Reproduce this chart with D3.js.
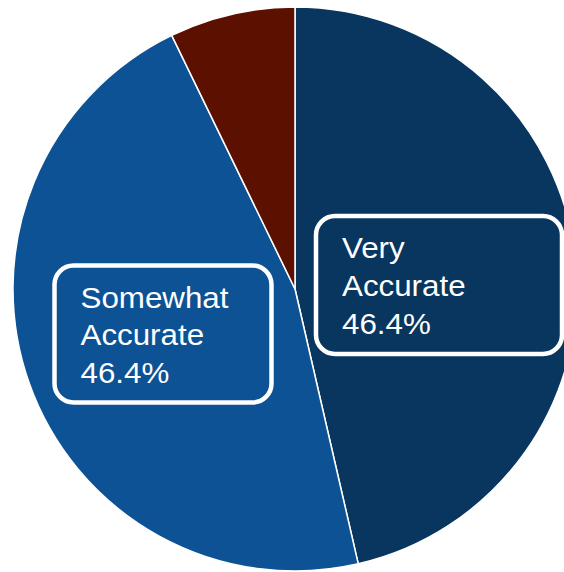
<!DOCTYPE html>
<html>
<head>
<meta charset="utf-8">
<script src="https://cdn.jsdelivr.net/npm/d3@7"></script>
<style>
  html, body { margin: 0; padding: 0; background: #ffffff; }
  svg { display: block; }
</style>
</head>
<body>
<div id="chart"></div>
<script>
// Survey answers and their shares (percent)
const categories = ["Very Accurate", "Somewhat Accurate", "Not Accurate"];
const values = [46.4, 46.4, 7.2];
const colors = ["#08365f", "#0d5294", "#5c1100"];
// Which slices carry a boxed label
const labelled = [true, true, false];

const width = 564, height = 572;
const cx = 295, cy = 289, radius = 282;

const svg = d3.select("#chart").append("svg")
  .attr("width", width)
  .attr("height", height);

const pie = d3.pie().sort(null).value(d => d.value);
const arc = d3.arc().innerRadius(0).outerRadius(radius);

const data = categories.map((c, i) => ({ name: c, value: values[i], color: colors[i], label: labelled[i] }));
const arcs = pie(data);

const g = svg.append("g").attr("transform", `translate(${cx},${cy})`);

g.selectAll("path.slice")
  .data(arcs)
  .join("path")
  .attr("class", "slice")
  .attr("d", arc)
  .attr("fill", d => d.data.color)
  .attr("stroke", "#ffffff")
  .attr("stroke-width", 1.5)
  .attr("stroke-linejoin", "round");

// Boxed labels, offset from the pie centre
const boxLayout = {
  "Very Accurate": { w: 246, h: 138, dx: 144, dy: -4 },
  "Somewhat Accurate": { w: 217, h: 137, dx: -132, dy: 45 }
};

const fmt = d3.format(".1f");
const lineH = 38;

arcs.filter(d => d.data.label).forEach(d => {
  const layout = boxLayout[d.data.name];
  const bx = layout.dx - layout.w / 2;
  const by = layout.dy - layout.h / 2;
  const lg = g.append("g");
  lg.append("rect")
    .attr("x", bx).attr("y", by)
    .attr("width", layout.w).attr("height", layout.h)
    .attr("rx", 19).attr("ry", 19)
    .attr("fill", d.data.color)
    .attr("stroke", "#ffffff")
    .attr("stroke-width", 4.5);
  const lines = d.data.name.split(" ").concat([fmt(d.data.value) + "%"]);
  const text = lg.append("text")
    .attr("transform", `translate(${bx + 26},0) scale(1.08,1)`)
    .attr("font-family", "'Liberation Sans', Arial, sans-serif")
    .attr("font-size", 29)
    .attr("fill", "#ffffff");
  lines.forEach((t, i) => {
    text.append("tspan")
      .attr("x", 0)
      .attr("y", by + 42 + i * lineH)
      .text(t);
  });
});
</script>
</body>
</html>
